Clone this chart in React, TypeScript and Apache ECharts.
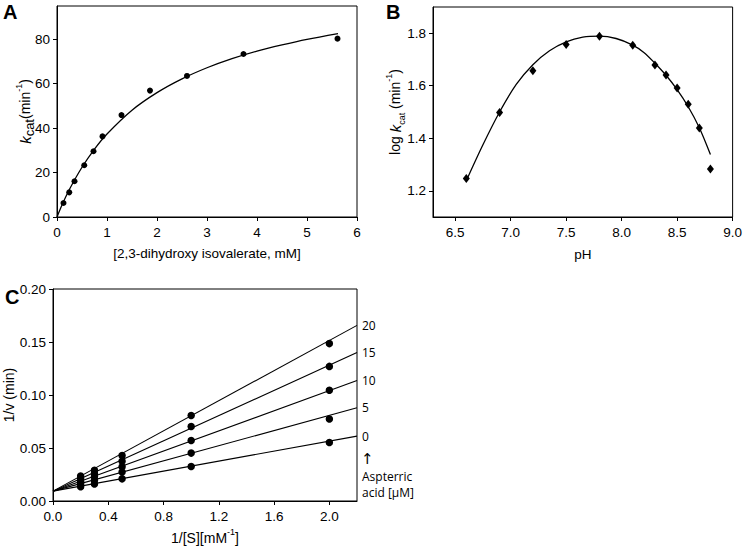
import React, { useEffect, useRef } from "react";
import * as echarts from "echarts";

// Panel A: Michaelis–Menten
const aSubstrate = [0.13, 0.245, 0.35, 0.545, 0.73, 0.91, 1.29, 1.86, 2.6, 3.73, 5.61];
const aKcat = [6.3, 11.1, 16.1, 23.3, 29.6, 36.3, 45.9, 56.9, 63.5, 73.4, 80.3];
const aFitX = [0, 0.1, 0.25, 0.5, 0.75, 1, 1.5, 2, 2.5, 3, 3.5, 4, 4.5, 5, 5.62];
const aFitY = [0, 5.4, 12.5, 22.4, 30.6, 37.4, 48.1, 56.0, 62.2, 67.2, 71.3, 74.7, 77.5, 80.0, 82.6];
const aXTicks = [0, 1, 2, 3, 4, 5, 6];
const aYTicks = [0, 20, 40, 60, 80];

// Panel B: pH profile
const bPH = [6.6, 6.9, 7.2, 7.5, 7.8, 8.1, 8.3, 8.4, 8.5, 8.6, 8.7, 8.8];
const bLogK = [1.247, 1.498, 1.657, 1.757, 1.789, 1.754, 1.679, 1.641, 1.591, 1.53, 1.439, 1.283];
const bFitX = [6.6, 6.75, 6.9, 7.05, 7.2, 7.35, 7.5, 7.65, 7.8, 7.95, 8.1, 8.2, 8.3, 8.4, 8.5, 8.6, 8.7, 8.8];
const bFitY = [1.238, 1.375, 1.5, 1.605, 1.68, 1.733, 1.767, 1.785, 1.789, 1.78, 1.755, 1.727, 1.686, 1.64, 1.585, 1.52, 1.44, 1.338];
const bXTicks = [6.5, 7.0, 7.5, 8.0, 8.5, 9.0];
const bYTicks = [1.2, 1.4, 1.6, 1.8];

// Panel C: Lineweaver–Burk
const cInvS = [0.2, 0.3, 0.5, 1.0, 2.0];
const cConc = ["20", "15", "10", "5", "0"];
const cInh20 = [0.0235, 0.029, 0.043, 0.0806, 0.1485];
const cInh15 = [0.021, 0.026, 0.0375, 0.0703, 0.127];
const cInh10 = [0.0185, 0.023, 0.0324, 0.057, 0.1045];
const cInh5 = [0.016, 0.0195, 0.0273, 0.0452, 0.0773];
const cInh0 = [0.0135, 0.016, 0.0209, 0.0325, 0.0552];
const cFitIntercept = 0.0093;
const cFitEndX = 2.2;
const cFitEnd = [0.1657, 0.14, 0.1136, 0.0879, 0.0612];
const cXTicks = [0, 0.4, 0.8, 1.2, 1.6, 2.0];
const cYTicks = [0, 0.05, 0.1, 0.15, 0.2];

const FONT = "'Liberation Sans', Arial, sans-serif";
const LABEL_FONT = "'Open Sans', 'Noto Sans', sans-serif";

function zip(xs: number[], ys: number[]) {
  return xs.map((x, i) => [x, ys[i]]);
}

const axisCommon = {
  axisLine: { show: true, lineStyle: { color: "#000", width: 1 } },
  axisTick: { show: true, inside: false, length: 4, lineStyle: { color: "#000" } },
  splitLine: { show: false },
  nameMoveOverlap: false,
};

export default function App() {
  const ref = useRef<HTMLDivElement>(null);
  useEffect(() => {
    if (!ref.current) return;
    const chart = echarts.init(ref.current, undefined, { renderer: "svg" });
    const labelStyle = { color: "#000", fontSize: 13.5, fontFamily: FONT };
    const nameRich = {
      n: { fontSize: 14, fontFamily: FONT, color: "#000", lineHeight: 22 },
      k: { fontSize: 15, fontFamily: FONT, fontStyle: "italic", color: "#000", lineHeight: 22 },
      sub: { fontSize: 13, fontFamily: FONT, color: "#000", verticalAlign: "bottom", lineHeight: 22 },
      subS: { fontSize: 9, fontFamily: FONT, color: "#000", verticalAlign: "bottom", lineHeight: 22 },
      sup: { fontSize: 9, fontFamily: FONT, color: "#000", verticalAlign: "top", lineHeight: 22 },
    };
    const grids = [
      { left: 57, top: 6, width: 300, height: 211 },
      { left: 433, top: 7, width: 301, height: 210 },
      { left: 53, top: 289, width: 304, height: 220 },
    ].map((g) => ({ ...g, show: true, borderColor: "#000", borderWidth: 1, containLabel: false }));

    const cSeriesData = [cInh20, cInh15, cInh10, cInh5, cInh0];

    const option: any = {
      animation: false,
      backgroundColor: "#fff",
      grid: grids,
      xAxis: [
        {
          ...axisCommon,
          gridIndex: 0,
          type: "value",
          min: 0,
          max: 6,
          interval: 1,
          axisTick: { ...axisCommon.axisTick, customValues: aXTicks },
          axisLabel: { ...labelStyle, margin: 8, customValues: aXTicks },
          name: "[2,3-dihydroxy isovalerate, mM]",
          nameLocation: "middle",
          nameGap: 29,
          nameTextStyle: { ...labelStyle, fontSize: 13.5 },
        },
        {
          ...axisCommon,
          gridIndex: 1,
          type: "value",
          min: 6.3,
          max: 9.0,
          axisTick: { ...axisCommon.axisTick, customValues: bXTicks },
          axisLabel: { ...labelStyle, margin: 8, customValues: bXTicks, formatter: (v: number) => v.toFixed(1) },
          name: "pH",
          nameLocation: "middle",
          nameGap: 30,
          nameTextStyle: { ...labelStyle, fontSize: 13.5 },
        },
        {
          ...axisCommon,
          gridIndex: 2,
          type: "value",
          min: 0,
          max: 2.2,
          axisTick: { ...axisCommon.axisTick, customValues: cXTicks },
          axisLabel: { ...labelStyle, margin: 8, customValues: cXTicks, formatter: (v: number) => v.toFixed(1) },
          name: "{n|1/[S][mM}{sup|-1}{n|]}",
          nameLocation: "middle",
          nameGap: 26,
          nameTextStyle: { rich: nameRich },
        },
      ],
      yAxis: [
        {
          ...axisCommon,
          gridIndex: 0,
          type: "value",
          min: 0,
          max: 95,
          axisTick: { ...axisCommon.axisTick, customValues: aYTicks },
          axisLabel: { ...labelStyle, margin: 7, customValues: aYTicks },
          name: "{k|k}{sub|cat}{n|(min}{sup|-1}{n|)}",
          nameLocation: "middle",
          nameRotate: 90,
          nameGap: 21,
          nameTextStyle: { rich: nameRich },
        },
        {
          ...axisCommon,
          gridIndex: 1,
          type: "value",
          min: 1.1,
          max: 1.9,
          axisTick: { ...axisCommon.axisTick, customValues: bYTicks },
          axisLabel: { ...labelStyle, margin: 7, customValues: bYTicks, formatter: (v: number) => v.toFixed(1) },
          name: "{n|log }{k|k}{subS|cat}{n| (min}{sup|-1}{n|)}",
          nameLocation: "middle",
          nameRotate: 90,
          nameGap: 27,
          nameTextStyle: { rich: nameRich },
        },
        {
          ...axisCommon,
          gridIndex: 2,
          type: "value",
          min: 0,
          max: 0.2,
          interval: 0.05,
          axisTick: { ...axisCommon.axisTick, customValues: cYTicks },
          axisLabel: { ...labelStyle, margin: 7, customValues: cYTicks, formatter: (v: number) => v.toFixed(2) },
          name: "1/v (min)",
          nameLocation: "middle",
          nameRotate: 90,
          nameGap: 37,
          nameTextStyle: { ...labelStyle, fontSize: 14 },
        },
      ],
      series: [
        {
          type: "line",
          xAxisIndex: 0,
          yAxisIndex: 0,
          data: zip(aFitX, aFitY),
          smooth: 0.3,
          showSymbol: false,
          itemStyle: { color: "#000" },
          lineStyle: { color: "#000", width: 1.3 },
        },
        {
          type: "scatter",
          xAxisIndex: 0,
          yAxisIndex: 0,
          data: zip(aSubstrate, aKcat),
          symbol: "circle",
          symbolSize: 6,
          itemStyle: { color: "#000", opacity: 1 },
        },
        {
          type: "line",
          xAxisIndex: 1,
          yAxisIndex: 1,
          data: zip(bFitX, bFitY),
          smooth: 0.3,
          showSymbol: false,
          itemStyle: { color: "#000" },
          lineStyle: { color: "#000", width: 1.3 },
        },
        {
          type: "scatter",
          xAxisIndex: 1,
          yAxisIndex: 1,
          data: zip(bPH, bLogK),
          symbol: "diamond",
          symbolSize: [7, 9],
          itemStyle: { color: "#000", opacity: 1 },
        },
        ...cConc.map((c, i) => ({
          type: "line",
          xAxisIndex: 2,
          yAxisIndex: 2,
          data: [
            [0, cFitIntercept],
            [cFitEndX, cFitEnd[i]],
          ],
          showSymbol: false,
          itemStyle: { color: "#000" },
          lineStyle: { color: "#000", width: 1.1 },
          endLabel: {
            show: true,
            formatter: c,
            distance: 5,
            color: "#000",
            fontSize: 12,
            fontFamily: LABEL_FONT,
          },
        })),
        ...cSeriesData.map((d) => ({
          type: "scatter",
          xAxisIndex: 2,
          yAxisIndex: 2,
          data: zip(cInvS, d),
          symbol: "circle",
          symbolSize: 7.5,
          itemStyle: { color: "#000", opacity: 1 },
        })),
      ],
      graphic: [
        { type: "text", left: 3, top: 2, style: { text: "A", font: `bold 20px ${FONT}`, fill: "#000" } },
        { type: "text", left: 386, top: 2, style: { text: "B", font: `bold 20px ${FONT}`, fill: "#000" } },
        { type: "text", left: 5, top: 287, style: { text: "C", font: `bold 20px ${FONT}`, fill: "#000" } },
        { type: "text", x: 361, y: 459, style: { text: "↑", font: `15px 'DejaVu Sans', sans-serif`, fill: "#000", verticalAlign: "middle" } },
        { type: "text", x: 362, y: 476, style: { text: "Aspterric", font: `12px ${LABEL_FONT}`, fill: "#000", verticalAlign: "middle" } },
        { type: "text", x: 362, y: 492, style: { text: "acid [μM]", font: `12px ${LABEL_FONT}`, fill: "#000", verticalAlign: "middle" } },
      ],
    };
    chart.setOption(option);
    return () => chart.dispose();
  }, []);
  return (
    <div
      ref={ref}
      style={{ position: "fixed", left: 0, top: 0, width: 745, height: 546, background: "#fff" }}
    />
  );
}
